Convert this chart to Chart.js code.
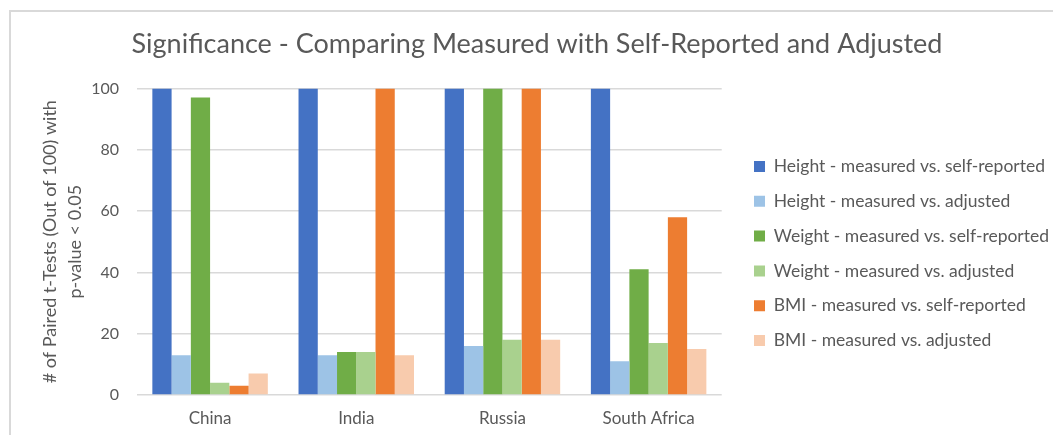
<!DOCTYPE html>
<html>
<head>
<meta charset="utf-8">
<title>Significance chart</title>
<script src="https://cdn.jsdelivr.net/npm/chart.js@4/dist/chart.umd.min.js"></script>
<style>
  html, body { margin: 0; padding: 0; background: #fff; }
  body { width: 1053px; height: 435px; position: relative; overflow: hidden; }
  #frame {
    position: absolute; left: 9px; top: 10px; right: 0; bottom: 0;
    border-top: 2px solid #d9d9d9; border-left: 2px solid #d9d9d9;
  }
  canvas { position: absolute; left: 0; top: 0; }
</style>
</head>
<body>
<div id="frame"></div>
<canvas id="chart" width="1053" height="435"></canvas>
<script>
// countries on the x axis
const countries = ["China", "India", "Russia", "South Africa"]

// # of paired t-tests (out of 100) with p < 0.05, one value per country
const heightSelfReported = [100, 100, 100, 100]
const heightAdjusted     = [13, 13, 16, 11]
const weightSelfReported = [97, 14, 100, 41]
const weightAdjusted     = [4, 14, 18, 17]
const bmiSelfReported    = [3, 100, 100, 58]
const bmiAdjusted        = [7, 13, 18, 15]

const yTicks = [0, 20, 40, 60, 80, 100]

const seriesNames = [
  "Height - measured vs. self-reported",
  "Height - measured vs. adjusted",
  "Weight - measured vs. self-reported",
  "Weight - measured vs. adjusted",
  "BMI - measured vs. self-reported",
  "BMI - measured vs. adjusted",
]
const seriesColors = ["#4472C4", "#9DC3E6", "#70AD47", "#A9D18E", "#ED7D31", "#F8CBAD"]
const seriesValues = [heightSelfReported, heightAdjusted, weightSelfReported, weightAdjusted, bmiSelfReported, bmiAdjusted]

const FONT = "Lato, 'Open Sans', sans-serif"
const TEXT = "#595959"

// move the legend a bit away from the plot and down next to its middle,
// without changing the row spacing
const legendNudge = {
  id: "legendNudge",
  afterLayout(chart) {
    const lg = chart.legend
    if (lg) {
      lg.left += 15
      lg.right += 15
      lg.top += 40
      lg.bottom += 40
    }
  },
}

new Chart(document.getElementById("chart"), {
  type: "bar",
  data: {
    labels: countries,
    datasets: seriesNames.map((name, i) => ({
      label: name,
      data: seriesValues[i],
      backgroundColor: seriesColors[i],
      borderWidth: 0,
      categoryPercentage: 0.79,
      barPercentage: 1.0,
    })),
  },
  options: {
    responsive: false,
    animation: false,
    layout: { padding: { left: 30, right: 9, top: 0, bottom: 8 } },
    plugins: {
      title: {
        display: true,
        text: "Significance - Comparing Measured with Self-Reported and Adjusted",
        color: TEXT,
        font: { family: FONT, size: 27, weight: "normal", lineHeight: 1.2 },
        padding: { top: 28, bottom: 28 },
      },
      legend: {
        display: true,
        position: "right",
        align: "center",
        maxWidth: 400,
        labels: {
          color: TEXT,
          font: { family: FONT, size: 17.5 },
          boxWidth: 11,
          boxHeight: 11,
          padding: 17.3,
        },
      },
      tooltip: { enabled: false },
    },
    scales: {
      x: {
        grid: { display: false, drawTicks: false },
        border: { display: false },
        ticks: {
          color: TEXT,
          font: { family: FONT, size: 17 },
          padding: 13,
          maxRotation: 0,
        },
        afterFit: (axis) => { axis.height = 32 },
      },
      y: {
        min: 0,
        max: 100,
        afterBuildTicks: (axis) => { axis.ticks = yTicks.map(v => ({ value: v })) },
        grid: { color: "#d9d9d9", lineWidth: 1.5, drawTicks: false },
        border: { display: false },
        ticks: {
          color: TEXT,
          font: { family: FONT, size: 16 },
          padding: 18,
        },
        title: {
          display: true,
          text: ["# of Paired t-Tests (Out of 100) with", "p-value < 0.05"],
          color: TEXT,
          font: { family: FONT, size: 18, lineHeight: 25 / 18 },
          padding: { top: 7.5, bottom: 4.5 },
        },
        afterFit: (axis) => { axis.width = 107 },
      },
    },
  },
  plugins: [legendNudge],
})
</script>
</body>
</html>
